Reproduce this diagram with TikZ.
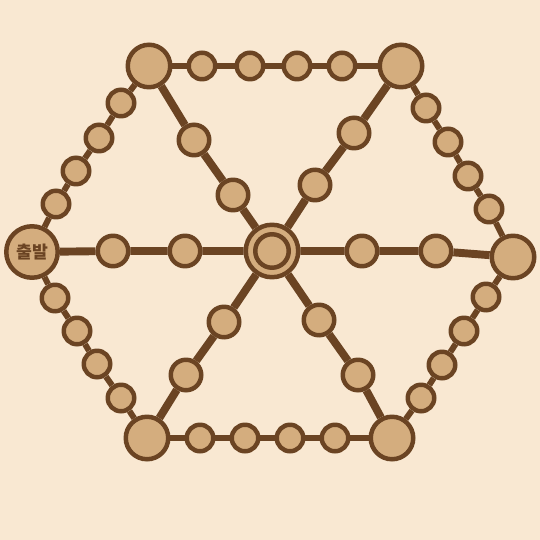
\documentclass[tikz,border=0pt]{standalone}
\usepackage{fontspec}
\newfontfamily\kr{Noto Sans CJK KR Black}
\usepackage{tikz}
\definecolor{board}{HTML}{F9E8D2}
\definecolor{wood}{HTML}{D4AD7E}
\definecolor{bark}{HTML}{6B4423}
\tikzstyle{c} = [circle, draw=bark, fill=wood, line width=2.55pt, minimum size=0.53cm, inner sep=0pt]
\tikzstyle{s} = [c, minimum size=0.61cm]
\tikzstyle{C} = [c, minimum size=0.85cm]
\tikzstyle{e} = [draw=bark, line width=3.4pt]
\tikzstyle{ee} = [draw=bark, line width=4.5pt]

\begin{document}
\begin{tikzpicture}
    [x=0.02cm, y=-0.02cm]
    \fill[board] (0,0) rectangle (540,540);
    \useasboundingbox (0,0) rectangle (540,540);
    % corners
    \node[C] (tl) at (149,66) {};
    \node[C] (tr) at (401,66) {};
    \node[C] (r) at (513,257) {};
    \node[C] (br) at (392,438) {};
    \node[C] (bl) at (147,438) {};
    \node[c, minimum size=1.03cm] (st) at (32,252)
      {\kr\fontsize{9.8pt}{11pt}\selectfont\color{bark}출발};
    % centre
    \node[c, minimum size=1.05cm] (o) at (272,251) {};
    \node[c, minimum size=0.67cm] (oi) at (272,251) {};
    % top and bottom rows
    \node[c] (t1) at (202,66) {};
    \node[c] (t2) at (250,66) {};
    \node[c] (t3) at (297,66) {};
    \node[c] (t4) at (342,66) {};
    \node[c] (b1) at (200,438) {};
    \node[c] (b2) at (245,438) {};
    \node[c] (b3) at (290,438) {};
    \node[c] (b4) at (335,438) {};
    % left side
    \node[c] (lu1) at (56,204) {};
    \node[c] (lu2) at (76,171) {};
    \node[c] (lu3) at (99,138) {};
    \node[c] (lu4) at (121,103) {};
    \node[c] (ll1) at (55,298) {};
    \node[c] (ll2) at (77,331) {};
    \node[c] (ll3) at (97,364) {};
    \node[c] (ll4) at (121,398) {};
    % right side
    \node[c] (ru1) at (426,108) {};
    \node[c] (ru2) at (448,142) {};
    \node[c] (ru3) at (468,176) {};
    \node[c] (ru4) at (489,209) {};
    \node[c] (rl1) at (486,297) {};
    \node[c] (rl2) at (464,331) {};
    \node[c] (rl3) at (442,365) {};
    \node[c] (rl4) at (421,398) {};
    % spokes
    \node[s] (a1) at (194,140) {};
    \node[s] (a2) at (233,195) {};
    \node[s] (b1s) at (354,133) {};
    \node[s] (b2s) at (315,185) {};
    \node[s] (c1) at (113,251) {};
    \node[s] (c2) at (185,251) {};
    \node[s] (d1) at (362,251) {};
    \node[s] (d2) at (436,251) {};
    \node[s] (f1) at (224,322) {};
    \node[s] (f2) at (186,375) {};
    \node[s] (g1) at (319,320) {};
    \node[s] (g2) at (358,375) {};
    % outer ring
    \draw[e] (tl) -- (t1) -- (t2) -- (t3) -- (t4) -- (tr);
    \draw[e] (tr) -- (ru1) -- (ru2) -- (ru3) -- (ru4) -- (r);
    \draw[e] (r) -- (rl1) -- (rl2) -- (rl3) -- (rl4) -- (br);
    \draw[e] (br) -- (b4) -- (b3) -- (b2) -- (b1) -- (bl);
    \draw[e] (bl) -- (ll4) -- (ll3) -- (ll2) -- (ll1) -- (st);
    \draw[e] (st) -- (lu1) -- (lu2) -- (lu3) -- (lu4) -- (tl);
    % inner lines
    \draw[ee] (tl) -- (a1) -- (a2) -- (o);
    \draw[ee] (tr) -- (b1s) -- (b2s) -- (o);
    \draw[ee] (st) -- (c1) -- (c2) -- (o);
    \draw[ee] (o) -- (d1) -- (d2) -- (r);
    \draw[ee] (o) -- (f1) -- (f2) -- (bl);
    \draw[ee] (o) -- (g1) -- (g2) -- (br);
  \end{tikzpicture}
\end{document}
